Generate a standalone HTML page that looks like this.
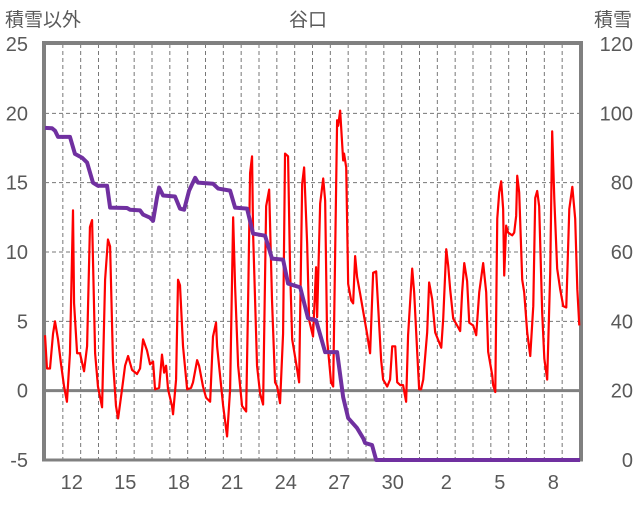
<!DOCTYPE html>
<html><head><meta charset="utf-8"><style>
body{margin:0;background:#fff;font-family:"Liberation Sans","Noto Sans CJK JP",sans-serif}
svg text{font-family:"Liberation Sans","Noto Sans CJK JP",sans-serif;fill:#595959}
</style></head><body>
<svg id="c" width="636" height="501" viewBox="0 0 636 501">
<text x="5" y="26" font-size="19">積雪以外</text>
<text x="308" y="26" font-size="19" text-anchor="middle">谷口</text>
<text x="632" y="26" font-size="19" text-anchor="end">積雪</text>
<g id="grid"></g><g id="ticks"></g><g id="series"></g>
</svg>
<script>
const xTicksDays=[0,1.5,4.5,7.5,10.5,13.5,16.5,19.5,22.5,25.5,28.5].slice(1);
const xTickLabels=["12","15","18","21","24","27","30","2","5","8"];
const leftTicks=[-5,0,5,10,15,20,25];
const rightTicks=[0,20,40,60,80,100,120];
const tempT=[0,0.11,0.28,0.45,0.56,0.73,0.90,1.07,1.23,1.40,1.57,1.63,1.80,1.96,2.19,2.36,2.52,2.64,2.81,2.97,3.20,3.37,3.53,3.65,3.81,3.98,4.10,4.32,4.49,4.66,4.88,5.16,5.33,5.50,5.72,5.89,6.06,6.17,6.40,6.56,6.68,6.79,6.90,7.12,7.18,7.35,7.46,7.57,7.74,7.97,8.19,8.30,8.53,8.64,8.86,9.03,9.26,9.42,9.59,9.65,9.99,10.21,10.38,10.55,10.66,10.83,11.05,11.28,11.39,11.50,11.61,11.67,11.89,12.06,12.23,12.40,12.57,12.73,12.90,13.02,13.18,13.35,13.46,13.63,13.74,13.86,14.08,14.25,14.42,14.53,14.70,14.81,15.03,15.20,15.26,15.43,15.60,15.71,15.82,16.04,16.16,16.38,16.44,16.55,16.72,16.77,16.89,17.00,17.17,17.28,17.39,17.50,17.67,18.06,18.23,18.40,18.57,18.85,18.96,19.19,19.35,19.47,19.64,19.75,19.92,20.08,20.25,20.36,20.59,20.70,20.87,20.98,21.09,21.21,21.43,21.54,21.71,21.88,22.22,22.33,22.50,22.61,22.72,22.89,23.11,23.28,23.39,23.51,23.67,23.79,24.01,24.18,24.35,24.57,24.74,24.85,25.08,25.13,25.25,25.36,25.47,25.58,25.69,25.75,25.86,25.97,26.20,26.31,26.42,26.48,26.59,26.76,26.87,27.04,27.21,27.38,27.49,27.60,27.71,27.88,28.00,28.16,28.33,28.44,28.56,28.72,28.89,29.06,29.23,29.40,29.57,29.73,29.85,29.96];
const tempV=[4.0,1.6,1.6,4.1,5.0,3.7,1.9,0.3,-0.8,2.7,13.0,6.3,2.7,2.7,1.4,3.2,11.8,12.3,2.7,0.3,-1.2,8.0,10.9,10.4,2.2,-1.1,-2.0,0.1,1.8,2.5,1.5,1.2,1.6,3.7,2.9,1.9,2.1,0.1,0.2,2.6,1.3,1.8,0.1,-1.1,-1.7,0.8,8.0,7.6,3.2,0.1,0.2,0.6,2.2,1.8,0.3,-0.5,-0.8,3.9,4.9,3.2,-1.1,-3.3,0.1,12.5,7.5,1.8,-1.1,-1.5,6.5,15.7,16.9,11.3,1.8,-0.2,-1.0,13.3,14.5,6.5,0.6,0.3,-0.9,4.1,17.1,16.9,8.9,3.7,2.0,0.6,14.9,16.1,10.6,5.1,3.9,8.9,5.3,13.5,15.3,13.7,3.7,0.6,0.3,19.5,19.1,20.2,16.6,17.1,16.1,7.7,6.5,6.3,9.7,8.2,7.0,4.1,2.7,8.5,8.6,2.2,0.8,0.3,0.8,3.2,3.2,0.6,0.4,0.4,-0.8,4.0,8.8,7.1,2.8,0.1,0.1,0.8,4.2,7.8,6.6,4.2,3.1,5.2,10.2,9.0,7.3,5.2,4.7,4.3,7.1,9.2,7.9,4.9,4.7,4.0,7.1,9.2,7.1,2.8,1.1,0.4,-0.1,12.4,14.3,15.1,13.1,8.3,11.9,11.4,11.2,11.4,12.6,15.5,14.3,8.0,7.1,4.2,2.5,6.1,13.9,14.4,13.3,5.6,2.3,0.8,8.5,18.7,13.8,8.8,7.3,6.1,6.0,13.1,14.7,12.4,7.3,4.7];
const snowT=[0,0.39,0.56,0.73,1.40,1.68,2.08,2.36,2.69,2.97,3.48,3.65,4.60,4.77,5.33,5.50,5.89,6.06,6.28,6.40,6.62,7.29,7.57,7.80,8.08,8.42,8.58,9.42,9.71,10.38,10.66,11.33,11.67,12.34,12.73,13.35,13.63,14.31,14.75,15.20,15.71,16.38,16.72,17.00,17.50,17.84,17.95,18.34,18.57,30.0];
const snowV=[95.8,95.7,95,93.2,93.2,88.3,87.2,85.8,80,79.1,79.1,72.8,72.7,72.2,72,70.8,69.9,69,75.7,78.6,76.3,76,72.5,72.2,77.7,81.4,80,79.7,78.3,77.7,72.8,72.5,65.3,64.7,58.1,57.8,50.9,49.8,40.9,40.3,31.1,31.1,18.1,12.1,9.2,6.3,4.9,4.3,0,0];

const L=45,R=580,T=44,B=460,NS="http://www.w3.org/2000/svg";
const xs=t=>L+(R-L)*t/30;
const yl=v=>B-(B-T)*(v+5)/30;
const yr=v=>B-(B-T)*v/120;
function mk(tag,attrs,parent){const e=document.createElementNS(NS,tag);for(const k in attrs)e.setAttribute(k,attrs[k]);parent.appendChild(e);return e;}
const grid=document.getElementById('grid'),ticks=document.getElementById('ticks'),ser=document.getElementById('series');
for(let d=1;d<30;d++){const l=mk('line',{x1:xs(d),x2:xs(d),y1:T,y2:B,stroke:'#777','stroke-width':1,'stroke-dasharray':'4,3'},grid);

}
leftTicks.forEach(v=>{if(v!==-5&&v!==0&&v!==25){const l=mk('line',{x1:L,x2:R,y1:yl(v),y2:yl(v),stroke:'#777','stroke-width':1,'stroke-dasharray':'4,3'},grid);

}
const t=mk('text',{x:28,y:yl(v)+7,'font-size':20,'text-anchor':'end'},ticks);t.textContent=v;

});
rightTicks.forEach(v=>{const t=mk('text',{x:633,y:yr(v)+7,'font-size':20,'text-anchor':'end'},ticks);t.textContent=v;

});
xTicksDays.forEach((d,i)=>{const t=mk('text',{x:xs(d),y:489,'font-size':20,'text-anchor':'middle'},ticks);t.textContent=xTickLabels[i];

});
const z=mk('line',{x1:L,x2:R,y1:yl(0),y2:yl(0),stroke:'#808080','stroke-width':3},grid);


const fr=mk('path',{d:`M${L-1},${B} V${T-1} H${R+1} V${B}`,fill:'none',stroke:'#808080','stroke-width':4},grid);


const bx=mk('line',{x1:L-3,x2:R+3,y1:B,y2:B,stroke:'#808080','stroke-width':3},grid);


const rp=mk('polyline',{points:tempT.map((t,i)=>xs(t)+','+yl(tempV[i])).join(' '),fill:'none',stroke:'#ff0000','stroke-width':2.2,'stroke-linejoin':'round'},ser);


const sp=mk('polyline',{points:snowT.map((t,i)=>xs(t)+','+yr(snowV[i])).join(' '),fill:'none',stroke:'#7030a0','stroke-width':4,'stroke-linejoin':'round'},ser);


</script>
</body></html>
